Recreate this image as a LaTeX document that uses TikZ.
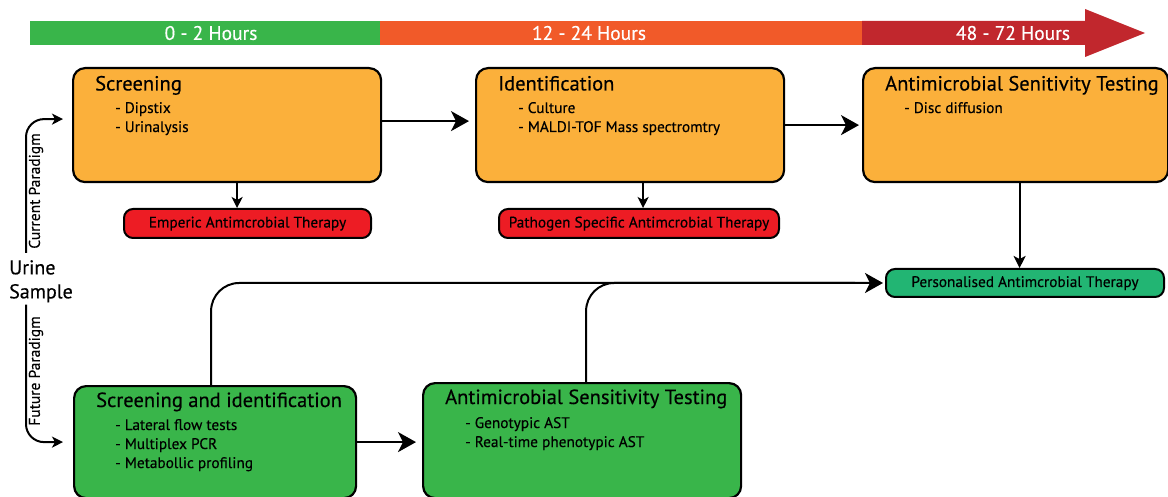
\documentclass[tikz,border=0pt]{standalone}
\usepackage{fontspec}
\setmainfont{PT Sans}[FakeBold=0.35]
\usetikzlibrary{arrows.meta,calc}
\definecolor{barG}{HTML}{39B54A}
\definecolor{barO}{HTML}{F15A29}
\definecolor{barR}{HTML}{C1272D}
\definecolor{boxO}{HTML}{FBB03B}
\definecolor{boxR}{HTML}{ED1C24}
\definecolor{boxG}{HTML}{39B54A}
\definecolor{boxT}{HTML}{22B573}
\tikzset{
  bigbox/.style={draw=black, line width=2.2pt, rounded corners=12pt, inner sep=0, anchor=north west},
  pill/.style={draw=black, line width=2pt, rounded corners=9pt, inner sep=0, anchor=north west,
    font=\fontsize{15.3}{15}\selectfont, text height=11pt, text depth=3pt},
  ttl/.style={anchor=base west, inner sep=0, font=\fontsize{20.5}{21}\selectfont},
  itm/.style={anchor=base west, inner sep=0, font=\fontsize{15.3}{15}\selectfont},
  hrs/.style={inner sep=0, text=white, font=\fontsize{19.5}{19}\selectfont},
  conn/.style={line width=2pt},
  bigtip/.style={-{Stealth[length=18pt,width=20pt,inset=5pt]}},
  midtip/.style={-{Stealth[length=12pt,width=12pt,inset=3pt]}},
  smalltip/.style={-{Stealth[length=11pt,width=11pt,inset=3pt]}},
  para/.style={rotate=90, inner sep=0, font=\fontsize{15.5}{15}\selectfont}
}
\begin{document}
\begin{tikzpicture}[x=1pt,y=-1pt]
\useasboundingbox (0,0) rectangle (1168,497);
% time bar
\fill[barG] (30,21) rectangle (380,45);
\fill[barO] (380,21) rectangle (862,45);
\fill[barR] (862,21) -- (1085,21) -- (1085,9) -- (1145,33) -- (1085,57) -- (1085,45) -- (862,45) -- cycle;
\node[hrs] (h1) at (211,33) {0 - 2 Hours};
\node[hrs] (h2) at (589,33) {12 - 24 Hours};
\node[hrs] (h3) at (1013,33) {48 - 72 Hours};
% current paradigm boxes
\node[bigbox, fill=boxO, minimum width=308pt, minimum height=114pt] (scr) at (72,67) {};
\node[ttl] (scrT) at (95,90.5) {Screening};
\node[itm] (scr1) at (115,113) {- Dipstix};
\node[itm] (scr2) at (115,132) {- Urinalysis};
\node[bigbox, fill=boxO, minimum width=308pt, minimum height=114pt] (ide) at (475,67) {};
\node[ttl] (ideT) at (498,90.5) {Identification};
\node[itm] (ide1) at (518,113) {- Culture};
\node[itm] (ide2) at (518,132) {- MALDI-TOF Mass spectromtry};
\node[bigbox, fill=boxO, minimum width=305pt, minimum height=114pt] (ast) at (862,67) {};
\node[ttl] (astT) at (885,90.5) {Antimicrobial Senitivity Testing};
\node[itm] (ast1) at (904,113) {- Disc diffusion};
% therapy pills
\node[pill, fill=boxR, minimum width=247pt, minimum height=29pt] (emp) at (123,208) {Emperic Antimcrobial Therapy};
\node[pill, fill=boxR, minimum width=280pt, minimum height=29pt] (pat) at (498,208) {Pathogen Specific Antimcrobial Therapy};
\node[pill, fill=boxT, minimum width=278pt, minimum height=28pt] (per) at (885,268) {Personalised Antimcrobial Therapy};
% future paradigm boxes
\node[bigbox, fill=boxG, minimum width=282pt, minimum height=112pt] (gscr) at (73,385) {};
\node[ttl] (gscrT) at (96,407) {Screening and identification};
\node[itm] (g1) at (115,430) {- Lateral flow tests};
\node[itm] (g2) at (115,449) {- Multiplex PCR};
\node[itm] (g3) at (115,468) {- Metabollic profiling};
\node[bigbox, fill=boxG, minimum width=318pt, minimum height=115pt] (gast) at (422,382) {};
\node[ttl] (gastT) at (445,404) {Antimicrobial Sensitivity Testing};
\node[itm] (ga1) at (465,428) {- Genotypic AST};
\node[itm] (ga2) at (465,447) {- Real-time phenotypic AST};
% urine sample
\node[anchor=north west, align=left, inner sep=0, font=\fontsize{20}{24}\selectfont] (urine) at (9,260) {Urine\\Sample};
\coordinate (lx) at (26,0);
\draw[conn, smalltip, rounded corners=18pt, shorten >=9pt] ($(urine.north -| lx)+(0,-7)$) |- ([yshift=6pt]scr.west);
\draw[conn, smalltip, rounded corners=18pt, shorten >=10pt] ($(urine.south -| lx)+(0,2)$) |- (gscr.west);
\node[para] (cp) at (36,191) {Current Paradigm};
\node[para] (fp) at (36,371) {Future Paradigm};
% connectors
\draw[conn, bigtip, shorten >=6pt] ([yshift=4pt]scr.east) -- ([yshift=4pt]ide.west);
\draw[conn, bigtip, shorten >=3pt] (ide.east) -- (ast.west);
\draw[conn, smalltip] ([xshift=10pt]scr.south) -- ([xshift=10pt]scr.south |- emp.north);
\draw[conn, smalltip] ([xshift=13pt]ide.south) -- ([xshift=13pt]ide.south |- pat.north);
\draw[conn, midtip] ([xshift=4pt]ast.south) -- ([xshift=4pt]ast.south |- per.north);
\draw[conn, bigtip, shorten >=6pt] (gscr.east) -- (gscr.east -| gast.west);
\draw[conn, bigtip, rounded corners=28pt, shorten >=2pt] ([xshift=-4pt]gscr.north) |- (per.west);
\draw[conn, rounded corners=28pt, shorten >=30pt] ([xshift=4pt]gast.north) |- (per.west);
\end{tikzpicture}
\end{document}
